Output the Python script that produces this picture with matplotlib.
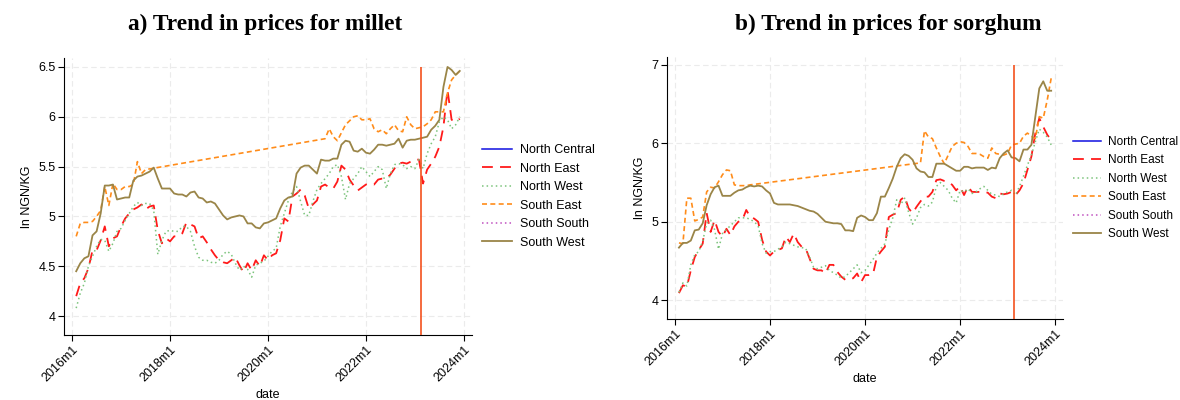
import numpy as np
import pandas as pd
import matplotlib
matplotlib.use("Agg")
import matplotlib.pyplot as plt

# monthly observations 2016m2 .. 2023m12 (month 0 = 2016m1)
months = list(range(1, 96))
tick_pos = [0, 24, 48, 72, 96]
tick_labels = ["2016m1", "2018m1", "2020m1", "2022m1", "2024m1"]
regions = ["North Central", "North East", "North West", "South East", "South South", "South West"]
policy_month = 85.6

# ---- millet (ln NGN/KG)
nc_millet = []
ss_millet = []
ne_millet = [4.20, 4.33, 4.38, 4.48, 4.66, 4.66, 4.76, 4.90, 4.70, 4.78,
             4.80, 4.90, 4.98, 5.03, 5.07, 5.09, 5.12, 5.07, 5.10, 5.11,
             4.86, 4.73, 4.78, 4.75, 4.80, 4.80, 4.83, 4.94, 4.92, 4.90,
             4.78, 4.80, 4.74, 4.67, 4.61, 4.56, 4.54, 4.53, 4.56, 4.59,
             4.51, 4.44, 4.53, 4.46, 4.56, 4.50, 4.61, 4.56, 4.61, 4.63,
             4.76, 4.98, 4.95, 5.20, 5.23, 5.27, 5.21, 5.08, 5.12, 5.16,
             5.30, 5.32, 5.29, 5.28, 5.35, 5.51, 5.47, 5.37, 5.31, 5.26,
             5.29, 5.32, 5.33, 5.32, 5.37, 5.38, 5.38, 5.42, 5.48, 5.53,
             5.54, 5.53, 5.55, 5.57, 5.57, 5.33, 5.47, 5.53, 5.60, 5.70,
             5.90, 6.27, 5.97, 5.95, 5.98]
nw_millet = [4.08, 4.23, 4.33, 4.50, 4.60, 4.70, 4.77, 4.76, 4.65, 4.73,
             4.85, 4.88, 4.96, 5.03, 5.10, 5.14, 5.11, 5.13, 5.13, 5.06,
             4.62, 4.76, 4.85, 4.86, 4.85, 4.85, 4.90, 4.90, 4.85, 4.70,
             4.59, 4.56, 4.56, 4.54, 4.53, 4.56, 4.62, 4.65, 4.62, 4.53,
             4.46, 4.50, 4.47, 4.39, 4.51, 4.53, 4.55, 4.60, 4.65, 4.68,
             4.90, 5.03, 5.16, 5.25, 5.30, 5.15, 5.01, 5.01, 5.15, 5.27,
             5.33, 5.38, 5.43, 5.50, 5.52, 5.40, 5.17, 5.33, 5.38, 5.43,
             5.50, 5.45, 5.40, 5.45, 5.50, 5.47, 5.28, 5.43, 5.52, 5.53,
             5.52, 5.48, 5.50, 5.48, 5.57, 5.48, 5.63, 5.73, 5.80, 5.95,
             6.00, 5.97, 5.88, 5.92, 6.00]
se_millet = ([4.80, 4.93, 4.94, 4.94, 4.95, 5.00, 5.06, 5.30, 5.11, 5.33,
              5.27, 5.27, 5.30, 5.30, 5.32, 5.55, 5.43, 5.47]
             + [None] * 43 +
             [5.78, 5.88, 5.80, 5.76, 5.84, 5.92, 5.96, 6.00, 6.01, 5.97,
              5.97, 5.98, 5.88, 5.85, 5.87, 5.83, 5.88, 5.92, 5.86, 5.85,
              6.00, 5.92, 5.88, 5.89, 5.90, 5.93, 5.97, 6.05, 6.05, 6.05,
              6.24, 6.37, 6.42, 6.46])
sw_millet = [4.45, 4.53, 4.58, 4.60, 4.81, 4.85, 5.03, 5.31, 5.31, 5.32,
             5.17, 5.18, 5.19, 5.19, 5.36, 5.40, 5.41, 5.43, 5.45, 5.49,
             5.38, 5.28, 5.28, 5.28, 5.23, 5.22, 5.22, 5.20, 5.24, 5.25,
             5.19, 5.18, 5.14, 5.15, 5.13, 5.07, 5.01, 4.97, 4.99, 5.00,
             5.01, 5.00, 4.93, 4.93, 4.89, 4.88, 4.93, 4.94, 4.96, 4.98,
             5.08, 5.16, 5.19, 5.20, 5.43, 5.49, 5.51, 5.51, 5.47, 5.43,
             5.57, 5.56, 5.56, 5.58, 5.58, 5.72, 5.76, 5.75, 5.66, 5.65,
             5.68, 5.64, 5.63, 5.67, 5.72, 5.72, 5.71, 5.72, 5.73, 5.78,
             5.69, 5.76, 5.77, 5.77, 5.78, 5.79, 5.80, 5.87, 5.91, 5.97,
             6.30, 6.50, 6.47, 6.42, 6.46]

# ---- sorghum (ln NGN/KG)
nc_sorghum = []
ss_sorghum = []
ne_sorghum = [4.09, 4.19, 4.17, 4.38, 4.55, 4.64, 4.72, 5.11, 4.87, 5.02,
              4.87, 4.81, 4.91, 4.83, 4.94, 5.00, 5.02, 5.15, 5.06, 5.04,
              5.00, 4.77, 4.62, 4.57, 4.62, 4.64, 4.66, 4.81, 4.74, 4.85,
              4.74, 4.68, 4.66, 4.53, 4.40, 4.38, 4.38, 4.34, 4.45, 4.45,
              4.36, 4.30, 4.26, 4.26, 4.28, 4.34, 4.23, 4.32, 4.32, 4.33,
              4.55, 4.62, 4.68, 5.06, 5.09, 5.11, 5.28, 5.32, 5.17, 5.11,
              5.19, 5.26, 5.32, 5.32, 5.38, 5.53, 5.54, 5.52, 5.51, 5.47,
              5.40, 5.45, 5.34, 5.45, 5.38, 5.38, 5.38, 5.38, 5.37, 5.32,
              5.30, 5.36, 5.35, 5.36, 5.38, 5.34, 5.40, 5.49, 5.66, 5.83,
              6.13, 6.32, 6.21, 6.11, 6.04]
nw_sorghum = [4.10, 4.22, 4.18, 4.45, 4.58, 4.62, 4.75, 4.98, 5.02, 4.90,
              4.65, 4.85, 4.90, 4.95, 5.00, 5.05, 5.05, 5.05, 5.03, 5.00,
              4.95, 4.72, 4.60, 4.62, 4.62, 4.65, 4.68, 4.74, 4.72, 4.70,
              4.68, 4.67, 4.66, 4.55, 4.42, 4.40, 4.42, 4.44, 4.38, 4.35,
              4.32, 4.28, 4.30, 4.35, 4.40, 4.45, 4.35, 4.38, 4.45, 4.52,
              4.60, 4.66, 4.72, 4.90, 5.05, 5.28, 5.22, 5.30, 5.12, 4.97,
              5.05, 5.18, 5.22, 5.20, 5.25, 5.45, 5.50, 5.45, 5.40, 5.30,
              5.24, 5.40, 5.38, 5.42, 5.36, 5.38, 5.42, 5.45, 5.40, 5.35,
              5.34, 5.32, 5.36, 5.38, 5.40, 5.34, 5.45, 5.58, 5.72, 5.85,
              6.02, 6.18, 6.14, 6.08, 5.98]
se_sorghum = ([4.73, 4.72, 5.30, 5.30, 5.01, 5.03, 5.06, 5.38, 5.44, 5.43,
               5.51, 5.60, 5.66, 5.65, 5.47, 5.46, 5.46, 5.46, 5.47]
              + [None] * 42 +
              [5.75, 6.16, 6.08, 6.06, 5.94, 5.83, 5.74, 5.85, 5.96, 6.00,
               6.02, 6.01, 5.96, 5.87, 5.87, 5.86, 5.83, 5.81, 5.94, 5.87,
               5.86, 5.85, 5.87, 5.98, 5.99, 6.00, 6.09, 6.13, 6.09, 6.06,
               6.34, 6.32, 6.55, 6.83])
sw_sorghum = [4.67, 4.73, 4.73, 4.76, 4.89, 4.90, 4.98, 5.21, 5.35, 5.44,
              5.46, 5.33, 5.33, 5.33, 5.37, 5.40, 5.41, 5.44, 5.46, 5.45,
              5.46, 5.45, 5.40, 5.36, 5.24, 5.22, 5.22, 5.22, 5.22, 5.21,
              5.20, 5.18, 5.16, 5.14, 5.13, 5.10, 5.05, 5.00, 4.99, 4.98,
              4.98, 4.97, 4.89, 4.89, 4.88, 5.05, 5.08, 5.06, 5.02, 5.02,
              5.11, 5.32, 5.32, 5.43, 5.55, 5.70, 5.81, 5.86, 5.84, 5.79,
              5.68, 5.64, 5.63, 5.57, 5.57, 5.74, 5.74, 5.74, 5.71, 5.68,
              5.65, 5.65, 5.70, 5.70, 5.68, 5.69, 5.69, 5.69, 5.66, 5.69,
              5.68, 5.81, 5.87, 5.91, 5.82, 5.81, 5.77, 5.92, 5.92, 5.98,
              6.34, 6.70, 6.79, 6.67, 6.67]

styles = {
    "North Central": dict(color="#1010e0", ls="-", lw=1.1),
    "North East": dict(color="#ff1a1a", ls=(0, (6, 4)), lw=1.3),
    "North West": dict(color="#7cc47c", ls=(0, (1, 2)), lw=1.1),
    "South East": dict(color="#ff8c1a", ls=(0, (3, 2)), lw=1.2),
    "South South": dict(color="#c050c0", ls=(0, (1, 2)), lw=1.1),
    "South West": dict(color="#9a8548", ls="-", lw=1.3),
}

plt.rcParams["font.family"] = ["Liberation Sans", "DejaVu Sans"]

fig = plt.figure(figsize=(11.8, 4), dpi=100)
ax1 = fig.add_axes([0.0542, 0.1625, 0.3458, 0.6925])
ax2 = fig.add_axes([0.5653, 0.2025, 0.3356, 0.655])


def draw(ax, series, ylim, yticks, yticklabels, vtop, title, title_x, leg_size, leg_space):
    for name, vals in zip(regions, series):
        s = pd.Series(vals, index=months[:len(vals)], dtype=float).dropna()
        ax.plot(s.index, s.values, label=name, **styles[name])
    ax.vlines(policy_month, ylim[0], vtop, color="#f4511e", lw=1.2, zorder=5)
    ax.set_xlim(-2, 98)
    ax.set_ylim(*ylim)
    ax.set_xticks(tick_pos)
    ax.set_xticklabels(tick_labels, rotation=45, ha="right", rotation_mode="anchor", fontsize=9)
    ax.set_yticks(yticks)
    ax.set_yticklabels(yticklabels, fontsize=9)
    ax.grid(True, color="#ebebeb", ls=(0, (5, 3)), lw=0.8)
    ax.set_axisbelow(True)
    for sp in ["top", "right"]:
        ax.spines[sp].set_visible(False)
    ax.tick_params(direction="out", length=4, width=0.8, pad=2)
    ax.set_ylabel("ln NGN/KG", fontsize=9)
    ax.set_xlabel("date", fontsize=9)
    ax.legend(loc="center left", bbox_to_anchor=(1.0, 0.5), frameon=False, fontsize=leg_size,
              handlelength=2.4, handletextpad=0.6, labelspacing=leg_space, borderaxespad=0.4)
    fig.text(title_x, 0.938, title, ha="center", va="center", fontsize=16.8,
             fontweight="bold", family="Liberation Serif")


draw(ax1, [nc_millet, ne_millet, nw_millet, se_millet, ss_millet, sw_millet],
     (3.81, 6.59), [4, 4.5, 5, 5.5, 6, 6.5], ["4", "4.5", "5", "5.5", "6", "6.5"], 6.5,
     "a) Trend in prices for millet", 0.225, 9, 0.52)
draw(ax2, [nc_sorghum, ne_sorghum, nw_sorghum, se_sorghum, ss_sorghum, sw_sorghum],
     (3.76, 7.10), [4, 5, 6, 7], ["4", "5", "6", "7"], 7.0,
     "b) Trend in prices for sorghum", 0.753, 8.5, 0.55)

plt.savefig("out.png", dpi=100)
plt.close()
